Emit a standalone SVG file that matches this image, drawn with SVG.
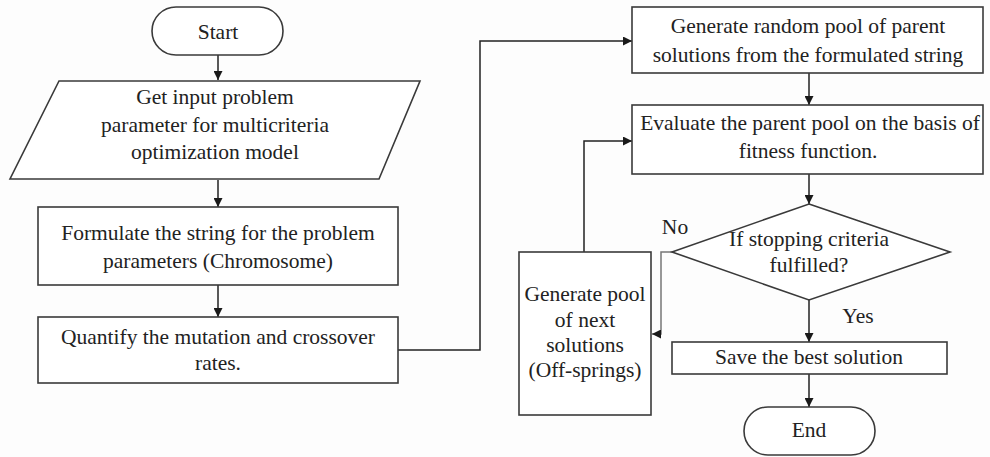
<svg xmlns="http://www.w3.org/2000/svg" width="990" height="457" viewBox="0 0 990 457">
  <defs>
    <marker id="arrow" viewBox="0 0 10 10" refX="10" refY="5" markerWidth="9" markerHeight="9" markerUnits="userSpaceOnUse" orient="auto">
      <path d="M0,0 L10,5 L0,10 z" fill="#1a1a1a"/>
    </marker>
  </defs>
  <style>
    .shape { fill: #ffffff; stroke: #3a3a3a; stroke-width: 1.6; }
    .edge { fill: none; stroke: #222222; stroke-width: 1.5; }
    .soft { stroke: #777777; }
    text { font-family: "Liberation Serif", "Times New Roman", serif; font-size: 21.5px; fill: #222222; text-anchor: middle; }
  </style>
  <rect x="0" y="0" width="990" height="457" fill="#fdfdfd"/>

  <!-- connectors -->
  <g id="connectors">
    <line class="edge" x1="218" y1="55" x2="218" y2="80" marker-end="url(#arrow)"/>
    <line class="edge" x1="218" y1="180" x2="218" y2="207" marker-end="url(#arrow)"/>
    <line class="edge" x1="218" y1="285" x2="218" y2="317" marker-end="url(#arrow)"/>
    <polyline class="edge" points="398,350 480,350 480,41 632,41" marker-end="url(#arrow)"/>
    <line class="edge" x1="809" y1="73" x2="809" y2="105" marker-end="url(#arrow)"/>
    <line class="edge" x1="809" y1="174" x2="809" y2="204" marker-end="url(#arrow)"/>
    <polyline class="edge soft" points="672,252 661,252 661,334 652,334" marker-end="url(#arrow)"/>
    <polyline class="edge" points="584,252 584,141 632,141" marker-end="url(#arrow)"/>
    <line class="edge" x1="809" y1="300" x2="809" y2="342" marker-end="url(#arrow)"/>
    <line class="edge" x1="809" y1="374" x2="809" y2="407" marker-end="url(#arrow)"/>
    <text x="675" y="234">No</text>
    <text x="858" y="323">Yes</text>
  </g>

  <g id="start">
    <rect class="shape" x="152" y="7" width="131" height="48" rx="24" ry="24"/>
    <text x="218" y="39">Start</text>
  </g>

  <g id="input">
    <polygon class="shape" points="59,81 420,81 379,179 10,179"/>
    <text x="215" y="104">Get input problem</text>
    <text x="215" y="132">parameter for multicriteria</text>
    <text x="215" y="159">optimization model</text>
  </g>

  <g id="formulate">
    <rect class="shape" x="38" y="207" width="360" height="78"/>
    <text x="218" y="240">Formulate the string for the problem</text>
    <text x="218" y="268">parameters (Chromosome)</text>
  </g>

  <g id="quantify">
    <rect class="shape" x="38" y="317" width="360" height="66"/>
    <text x="218" y="344">Quantify the mutation and crossover</text>
    <text x="218" y="370">rates.</text>
  </g>

  <g id="generate-parents">
    <rect class="shape" x="632" y="7" width="351" height="66"/>
    <text x="808" y="33">Generate random pool of parent</text>
    <text x="808" y="62">solutions from the formulated string</text>
  </g>

  <g id="evaluate">
    <rect class="shape" x="632" y="105" width="351" height="69"/>
    <text x="810" y="130">Evaluate the parent pool on the basis of</text>
    <text x="808" y="158">fitness function.</text>
  </g>

  <g id="stop-check">
    <polygon class="shape" points="809,204 950,252 809,300 672,252"/>
    <text x="809" y="246">If stopping criteria</text>
    <text x="809" y="272">fulfilled?</text>
  </g>

  <g id="offspring">
    <rect class="shape" x="519" y="252" width="132" height="163"/>
    <text x="585" y="301">Generate pool</text>
    <text x="585" y="327">of next</text>
    <text x="585" y="352">solutions</text>
    <text x="585" y="377">(Off-springs)</text>
  </g>

  <g id="save">
    <rect class="shape" x="672" y="342" width="275" height="32"/>
    <text x="809" y="364">Save the best solution</text>
  </g>

  <g id="end">
    <rect class="shape" x="744" y="407" width="131" height="48" rx="24" ry="24"/>
    <text x="809" y="437">End</text>
  </g>
</svg>
